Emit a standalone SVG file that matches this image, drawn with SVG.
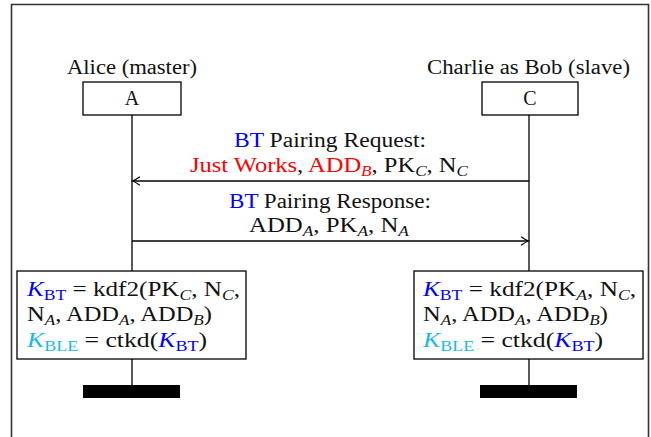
<svg xmlns="http://www.w3.org/2000/svg" width="651" height="437" viewBox="0 0 651 437">
  <style>
    text { font-family: "Liberation Serif", "Times New Roman", serif; font-size: 20px; fill: #111; }
    .sub { font-size: 14px; }
    .it { font-style: italic; }
    .blue { fill: #0000ff; }
    .red { fill: #ff0000; }
    .cyan { fill: #1ab8ec; }
    .box { fill: #fff; stroke: #000; stroke-width: 1.3; }
    .life { stroke: #000; stroke-width: 1.3; fill: none; }
    .msg { stroke: #000; stroke-width: 1.3; fill: none; }
  </style>
  <defs>
    <marker id="tip" viewBox="-8 -5 10 10" refX="0" refY="0" markerWidth="10" markerHeight="10" markerUnits="userSpaceOnUse" orient="auto">
      <path d="M -6.5,-4 Q -2,-0.8 0.5,0 Q -2,0.8 -6.5,4" fill="none" stroke="#000" stroke-width="1.2" stroke-linecap="round"/>
    </marker>
  </defs>

  <!-- outer frame, open at the bottom -->
  <path d="M 11.5,437 V 4.5 H 648.5 V 437" fill="none" stroke="#333" stroke-width="1.6"/>

  <!-- lifelines -->
  <g id="lifelines">
    <line class="life" x1="132" y1="115" x2="132" y2="271"/>
    <line class="life" x1="132" y1="359" x2="132" y2="385"/>
    <line class="life" x1="529" y1="115" x2="529" y2="271"/>
    <line class="life" x1="529" y1="359" x2="529" y2="385"/>
  </g>

  <!-- participant A -->
  <g id="alice">
    <text x="132" y="74" text-anchor="middle" textLength="130" lengthAdjust="spacingAndGlyphs">Alice (master)</text>
    <rect class="box" x="83" y="82" width="98" height="33"/>
    <text x="132" y="105" text-anchor="middle">A</text>
  </g>

  <!-- participant C -->
  <g id="charlie">
    <text x="528.5" y="74" text-anchor="middle" textLength="203" lengthAdjust="spacingAndGlyphs">Charlie as Bob (slave)</text>
    <rect class="box" x="482" y="82" width="96" height="33"/>
    <text x="530" y="105" text-anchor="middle">C</text>
  </g>

  <!-- messages -->
  <g id="connectors">
    <line class="msg" x1="529" y1="181" x2="133" y2="181" marker-end="url(#tip)"/>
    <line class="msg" x1="132" y1="241" x2="528" y2="241" marker-end="url(#tip)"/>
  </g>

  <g id="msg-request">
    <text x="330" y="147" text-anchor="middle" textLength="192" lengthAdjust="spacingAndGlyphs"><tspan class="blue">BT</tspan> Pairing Request:</text>
    <text x="329" y="172" text-anchor="middle" textLength="278" lengthAdjust="spacingAndGlyphs"><tspan class="red">Just Works</tspan>, <tspan class="red">ADD</tspan><tspan class="red sub it" dy="4">B</tspan><tspan dy="-4">, PK</tspan><tspan class="sub it" dy="4">C</tspan><tspan dy="-4">, N</tspan><tspan class="sub it" dy="4">C</tspan></text>
  </g>

  <g id="msg-response">
    <text x="330" y="208" text-anchor="middle" textLength="202" lengthAdjust="spacingAndGlyphs"><tspan class="blue">BT</tspan> Pairing Response:</text>
    <text x="329" y="232" text-anchor="middle" textLength="160" lengthAdjust="spacingAndGlyphs">ADD<tspan class="sub it" dy="4">A</tspan><tspan dy="-4">, PK</tspan><tspan class="sub it" dy="4">A</tspan><tspan dy="-4">, N</tspan><tspan class="sub it" dy="4">A</tspan></text>
  </g>

  <!-- key derivation on A's side -->
  <g id="alice-keys">
    <rect class="box" x="17" y="271" width="229" height="88"/>
    <text x="27" y="296" textLength="213" lengthAdjust="spacingAndGlyphs"><tspan class="blue it">K</tspan><tspan class="blue sub" dy="4">BT</tspan><tspan dy="-4"> = kdf2(PK</tspan><tspan class="sub it" dy="4">C</tspan><tspan dy="-4">, N</tspan><tspan class="sub it" dy="4">C</tspan><tspan dy="-4">,</tspan></text>
    <text x="27" y="321" textLength="185" lengthAdjust="spacingAndGlyphs">N<tspan class="sub it" dy="4">A</tspan><tspan dy="-4">, ADD</tspan><tspan class="sub it" dy="4">A</tspan><tspan dy="-4">, ADD</tspan><tspan class="sub it" dy="4">B</tspan><tspan dy="-4">)</tspan></text>
    <text x="27" y="347" textLength="180" lengthAdjust="spacingAndGlyphs"><tspan class="cyan it">K</tspan><tspan class="cyan sub" dy="4">BLE</tspan><tspan dy="-4"> = ctkd(</tspan><tspan class="blue it">K</tspan><tspan class="blue sub" dy="4">BT</tspan><tspan dy="-4">)</tspan></text>
  </g>

  <!-- key derivation on C's side -->
  <g id="charlie-keys">
    <rect class="box" x="414" y="271" width="229" height="88"/>
    <text x="423" y="296" textLength="213" lengthAdjust="spacingAndGlyphs"><tspan class="blue it">K</tspan><tspan class="blue sub" dy="4">BT</tspan><tspan dy="-4"> = kdf2(PK</tspan><tspan class="sub it" dy="4">A</tspan><tspan dy="-4">, N</tspan><tspan class="sub it" dy="4">C</tspan><tspan dy="-4">,</tspan></text>
    <text x="423" y="321" textLength="185" lengthAdjust="spacingAndGlyphs">N<tspan class="sub it" dy="4">A</tspan><tspan dy="-4">, ADD</tspan><tspan class="sub it" dy="4">A</tspan><tspan dy="-4">, ADD</tspan><tspan class="sub it" dy="4">B</tspan><tspan dy="-4">)</tspan></text>
    <text x="423" y="347" textLength="180" lengthAdjust="spacingAndGlyphs"><tspan class="cyan it">K</tspan><tspan class="cyan sub" dy="4">BLE</tspan><tspan dy="-4"> = ctkd(</tspan><tspan class="blue it">K</tspan><tspan class="blue sub" dy="4">BT</tspan><tspan dy="-4">)</tspan></text>
  </g>

  <!-- end-of-lifeline bars -->
  <g id="alice-end">
    <rect x="83" y="385" width="97" height="13" fill="#000"/>
  </g>
  <g id="charlie-end">
    <rect x="480" y="385" width="97" height="13" fill="#000"/>
  </g>
</svg>
